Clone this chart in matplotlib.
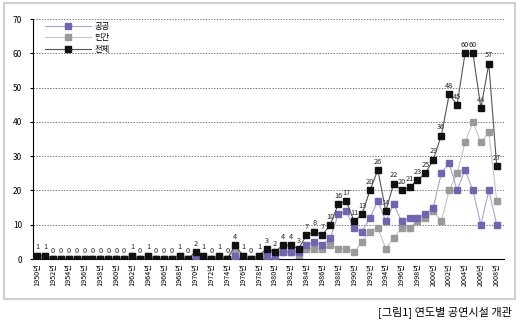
import numpy as np
import matplotlib
matplotlib.use('Agg')
import matplotlib.pyplot as plt
from matplotlib.patches import Rectangle

plt.rcParams['font.family'] = ['Noto Sans CJK KR', 'DejaVu Sans']

# 연도 (1950 ~ 2008)
years = list(range(1950, 2009))

# 전체 개관 수
total = [1, 1, 0, 0, 0, 0, 0, 0, 0, 0,
         0, 0, 1, 0, 1, 0, 0, 0, 1, 0,
         2, 1, 0, 1, 0, 4, 1, 0, 1, 3,
         2, 4, 4, 3, 7, 8, 7, 10, 16, 17,
         11, 13, 20, 26, 14, 22, 20, 21, 23, 25,
         29, 36, 48, 45, 60, 60, 44, 57, 27]

# 공공
public = [0, 0, 0, 0, 0, 0, 0, 0, 0, 0,
          0, 0, 1, 0, 0, 0, 0, 0, 1, 0,
          1, 0, 0, 0, 0, 1, 0, 0, 0, 1,
          0, 2, 2, 2, 4, 5, 4, 6, 13, 14,
          9, 8, 12, 17, 11, 16, 11, 12, 12, 13,
          15, 25, 28, 20, 26, 20, 10, 20, 10]

# 민간
private = [1, 1, 0, 0, 0, 0, 0, 0, 0, 0,
           0, 0, 0, 0, 1, 0, 0, 0, 0, 0,
           1, 1, 0, 1, 0, 3, 1, 0, 1, 2,
           2, 2, 2, 1, 3, 3, 3, 4, 3, 3,
           2, 5, 8, 9, 3, 6, 9, 9, 11, 12,
           14, 11, 20, 25, 34, 40, 34, 37, 17]

tick_years = years[::2]
tick_labels = [f'{y}년' for y in tick_years]

fig = plt.figure(figsize=(5.2, 3.23), dpi=100)
ax = fig.add_axes([0.0635, 0.198, 0.9055, 0.743])

# 외곽 테두리
fig.patches.append(Rectangle((0.007, 0.075), 0.984, 0.915, transform=fig.transFigure,
                             fill=False, edgecolor='#cfcfcf', linewidth=1.5))

ms = 3.7
ax.plot(years, public, color='#aaa3d6', lw=0.8, marker='s', markersize=ms,
        markerfacecolor='#7165b0', markeredgecolor='#7165b0', label='공공', zorder=3)
ax.plot(years, private, color='#c4c4c4', lw=0.8, marker='s', markersize=ms,
        markerfacecolor='#9a9a9a', markeredgecolor='#9a9a9a', label='민간', zorder=2)
ax.plot(years, total, color='#555555', lw=0.8, marker='s', markersize=ms,
        markerfacecolor='#111111', markeredgecolor='#111111', label='전체', zorder=4)

# 데이터 레이블
for x, v in zip(years, total):
    ax.annotate(str(v), (x, v), xytext=(0, 3), textcoords='offset points',
                ha='center', va='bottom', fontsize=5.3, color='#222222')

ax.set_xlim(1949.5, 2008.9)
ax.set_ylim(0, 70)
ax.set_yticks(range(0, 71, 10))
ax.yaxis.grid(True, linestyle=(0, (2, 2)), color='#444444', linewidth=0.5)
ax.set_axisbelow(True)

ax.set_xticks(tick_years)
ax.set_xticklabels(tick_labels, rotation=90, fontsize=5.2)
ax.tick_params(axis='x', length=0, pad=3)
ax.tick_params(axis='y', length=2, labelsize=6, pad=6)

for s in ['top', 'right']:
    ax.spines[s].set_visible(False)
ax.spines['left'].set_linewidth(0.8)
ax.spines['bottom'].set_linewidth(0.8)

ax.legend(loc='upper left', bbox_to_anchor=(0.022, 0.995), frameon=False, fontsize=6,
          handlelength=5.5, handletextpad=0.4, labelspacing=0.28,
          borderaxespad=0, borderpad=0.2)

fig.text(0.985, 0.035, '[그림1] 연도별 공연시설 개관', ha='right', va='center', fontsize=8)

fig.savefig('out.png', dpi=100)
